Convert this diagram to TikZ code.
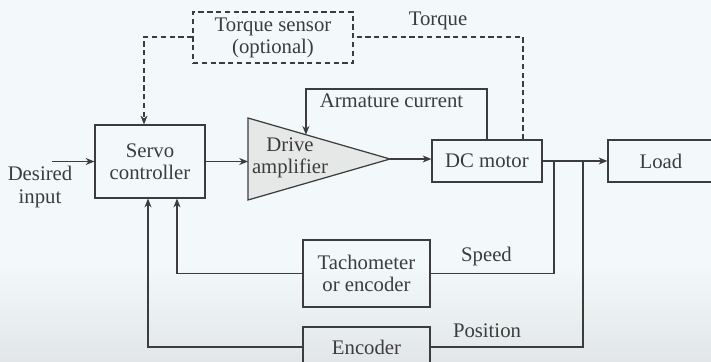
\documentclass[tikz,border=0pt]{standalone}
\usepackage{fontspec}
\setmainfont{Liberation Serif}
\usetikzlibrary{arrows.meta,calc}
\definecolor{ink}{HTML}{3C3C3C}
\definecolor{bgtop}{HTML}{F3F9FA}
\definecolor{bgbot}{HTML}{E2E6E8}
\definecolor{ampgray}{HTML}{E6E8E8}
\begin{document}
\begin{tikzpicture}[x=0.02cm, y=-0.02cm,
        every node/.style={text=ink, font=\fontsize{11.8}{12.6}\selectfont, align=center},
        blk/.style={draw=ink, line width=0.7pt, inner sep=0pt},
        sig/.style={draw=ink, line width=0.7pt},
        arr/.style={sig, -{Stealth[length=5pt,width=4pt]}},
        opt/.style={dashed, dash pattern=on 3pt off 2pt}]
    % background
    \fill[bgtop] (0,0) rectangle (711,362);
    \shade[top color=bgtop, bottom color=bgbot] (0,262) rectangle (711,362);
    \useasboundingbox (0,0) rectangle (711,362);

    % blocks
    \node[blk, opt, minimum width=3.2cm, minimum height=1.02cm] (sensor) at (273,37.5) {Torque sensor\\(optional)};
    \node[blk, minimum width=2.2cm, minimum height=1.46cm] (servo) at (150,161.5) {Servo\\controller};
    \node[blk, minimum width=2.2cm, minimum height=0.84cm] (motor) at (487,161) {DC motor};
    \node[blk, minimum width=2.12cm, minimum height=0.84cm] (load) at (661,161) {Load};
    \node[blk, minimum width=2.54cm, minimum height=1.34cm] (tacho) at (366.5,273.5) {Tachometer\\or encoder};
    \node[blk, minimum width=2.54cm, minimum height=0.8cm] (enc) at (366.5,347) {Encoder};

    % drive amplifier
    \coordinate (ampT) at (248,118);
    \coordinate (ampB) at (248,200);
    \coordinate (ampA) at (390,159);
    \draw[sig, fill=ampgray] (ampT) -- (ampA) -- (ampB) -- cycle;
    \node (amp) at (290,158) {Drive\\amplifier};
    \coordinate (ampIn) at (248,161.5);
    \coordinate (ampCur) at ($(ampT)!0.408!(ampA)$);

    % forward path
    \coordinate (din) at (52,161.5);
    \node (dlabel) at (40,187) {Desired\\input};
    \draw[arr] (din) -- (servo.west);
    \draw[arr] (servo.east) -- (ampIn);
    \draw[arr] (ampA) -- (ampA -| motor.west);
    \draw[arr] (motor.east) -- (load.west);

    % armature current loop
    \coordinate (cur) at (487,89);
    \draw[arr] (motor.north) |- (cur) -| (ampCur);
    \node (curlabel) at (391.5,100.5) {Armature current};

    % torque (optional)
    \coordinate (tq) at (523,37);
    \draw[sig, opt] (motor.north -| tq) -- (tq) -- (sensor.east |- tq);
    \node (tqlabel) at (438,21) {Torque};
    \draw[arr, opt] (sensor.west |- tq) -| ($(servo.north)+(-6,0)$);

    % speed feedback
    \coordinate (spd) at (554,161);
    \draw[sig] (spd) |- (tacho.east);
    \node (spdlabel) at (486.5,257) {Speed};
    \draw[arr] (tacho.west) -| ($(servo.south)+(27,0)$);

    % position feedback
    \coordinate (pos) at (583,161);
    \draw[sig] (pos) |- (enc.west -| pos) |- (enc.east);
    \node (poslabel) at (487,331) {Position};
    \draw[arr] (enc.west) -| ($(servo.south)+(-2,0)$);
\end{tikzpicture}
\end{document}
